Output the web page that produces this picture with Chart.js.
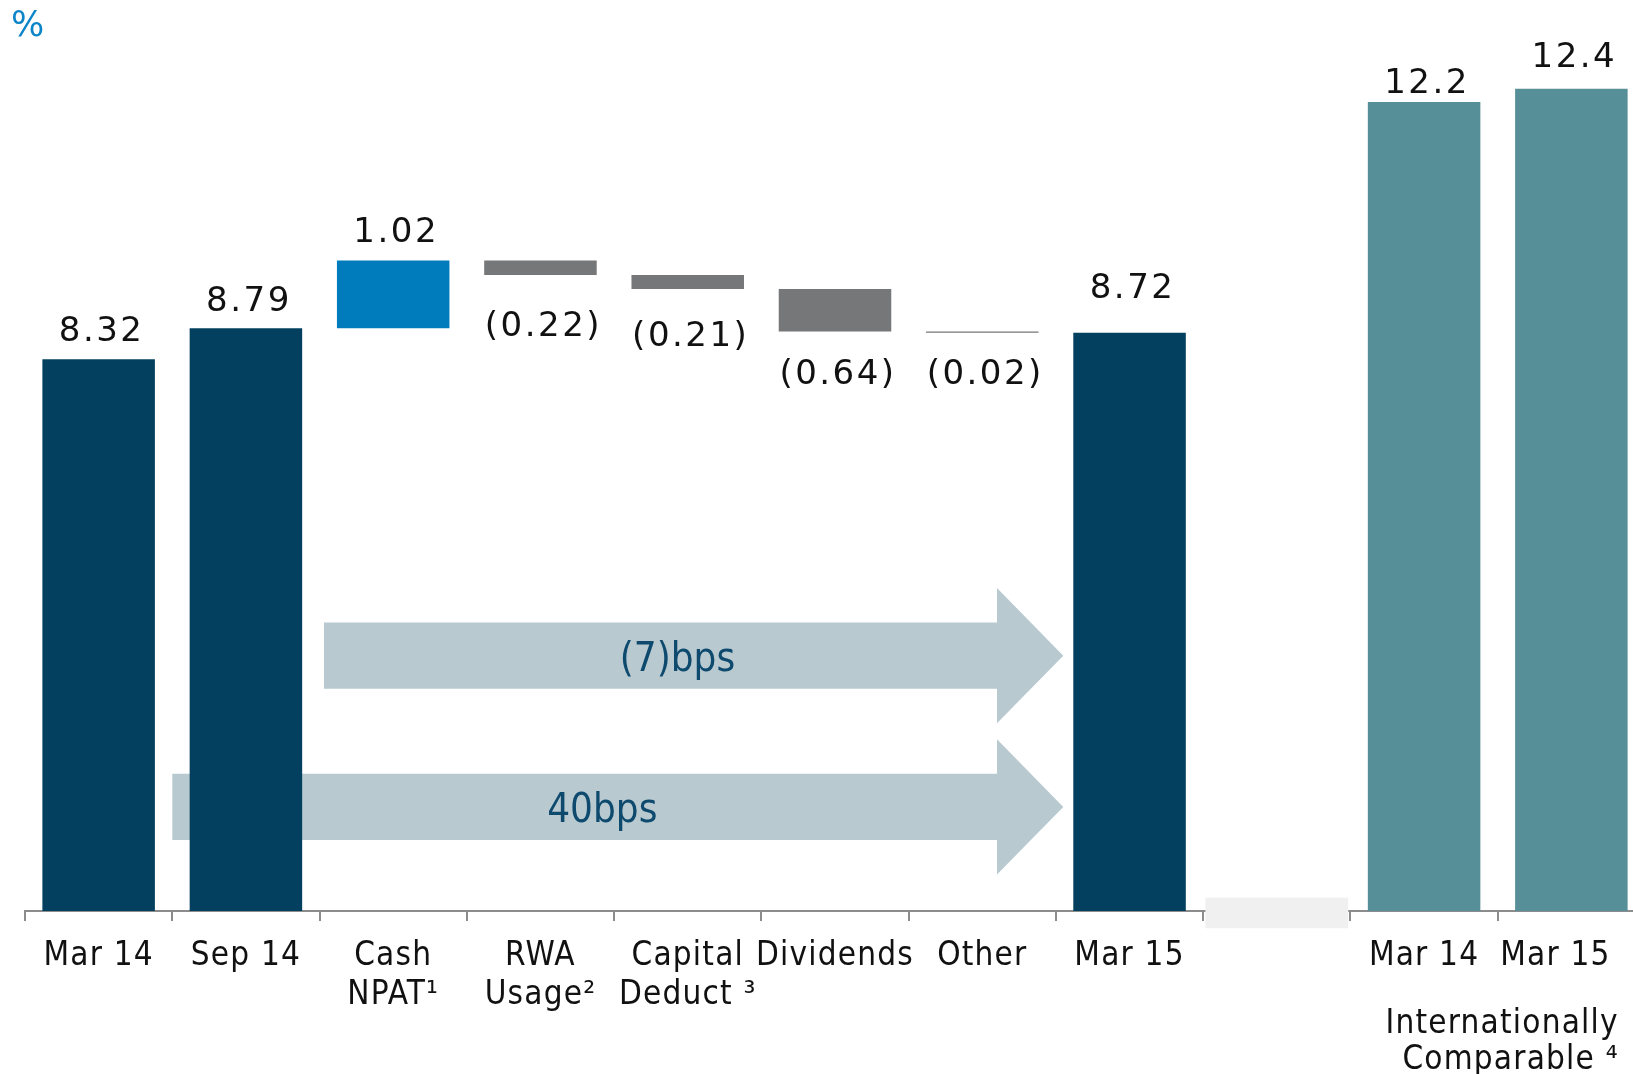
<!DOCTYPE html>
<html>
<head>
<meta charset="utf-8">
<title>CET1 ratio movement</title>
<script src="https://cdn.jsdelivr.net/npm/chart.js@4/dist/chart.umd.min.js"></script>
<style>
  html, body { margin: 0; padding: 0; background: #fff; overflow: hidden; }
  #wrap { width: 1633px; height: 1074px; overflow: hidden; }
</style>
</head>
<body>
<div id="wrap"><canvas id="chart" width="1660" height="1074"></canvas></div>
<script>
// data
const categories = ["Mar 14", "Sep 14", ["Cash", "NPAT\u00B9"], ["RWA", "Usage\u00B2"], ["Capital", "Deduct \u00B3"],
  "Dividends", "Other", "Mar 15", "", "Mar 14", "Mar 15   "];
const levels = [8.32, 8.79, null, null, null, null, null, 8.72, null, 12.2, 12.4];
const movements = [null, null, 1.02, -0.22, -0.21, -0.64, -0.02, null, null, null, null];
const valueLabels = ["8.32", "8.79", "1.02", "(0.22)", "(0.21)", "(0.64)", "(0.02)", "8.72", "", "12.2", "12.4"];
const arrowLabels = ["(7)bps", "40bps"];
const groupLabel = ["Internationally", "Comparable \u2074"];
const intlFrom = 9;      // bars from here on are the internationally comparable ones
const breakAt = 8;       // empty slot with the axis break

// waterfall: totals start at zero, movements float on the running level
let running = 0;
const barData = categories.map((c, i) => {
  if (levels[i] !== null) { running = levels[i]; return [0, levels[i]]; }
  if (movements[i] !== null) {
    const start = running;
    running = Math.round((running + movements[i]) * 100) / 100;
    return [start, running];
  }
  return null;
});
const breakData = categories.map((c, i) => i === breakAt ? [-0.26, 0.2] : null);

const NAVY = "#03405f", TEAL = "#578f98", BLUE = "#007cbd", GREY = "#767779";
const barColors = categories.map((c, i) => {
  if (levels[i] !== null) return i >= intlFrom ? TEAL : NAVY;
  if (movements[i] !== null) return movements[i] > 0 ? BLUE : GREY;
  return "rgba(0,0,0,0)";
});

const condensed = "'DejaVu Sans Condensed', 'DejaVu Sans', sans-serif";

const annotate = {
  id: "annotate",
  beforeDraw(chart) {
    // slight tracking for the axis labels, as in the slide
    chart.ctx.letterSpacing = "1.2px";
  },
  beforeDatasetsDraw(chart, args, opts) {
    const { ctx, scales: { x, y } } = chart;
    opts.arrows.forEach((a, i) => {
      const x0 = x.getPixelForValue(a.from);
      const x1 = x.getPixelForValue(a.to);
      const xh = x.getPixelForValue(a.to - opts.headLength);
      const yc = y.getPixelForValue(a.level);
      const bh = y.getPixelForValue(a.level - opts.bodyHalf) - yc;
      const hh = y.getPixelForValue(a.level - opts.headHalf) - yc;
      ctx.save();
      ctx.fillStyle = "#b8c9d0";
      ctx.beginPath();
      ctx.moveTo(x0, yc - bh);
      ctx.lineTo(xh, yc - bh);
      ctx.lineTo(xh, yc - hh);
      ctx.lineTo(x1, yc);
      ctx.lineTo(xh, yc + hh);
      ctx.lineTo(xh, yc + bh);
      ctx.lineTo(x0, yc + bh);
      ctx.closePath();
      ctx.fill();
      ctx.fillStyle = "#0e4a6e";
      ctx.letterSpacing = "0px";
      ctx.font = "40px " + condensed;
      ctx.textAlign = "center";
      ctx.textBaseline = "middle";
      ctx.fillText(arrowLabels[i], x.getPixelForValue(a.textAt), yc + 5);
      ctx.restore();
    });
  },
  afterDatasetsDraw(chart, args, opts) {
    const { ctx } = chart;
    const meta = chart.getDatasetMeta(0);
    ctx.save();
    ctx.fillStyle = "#111";
    ctx.font = "34px 'DejaVu Sans', sans-serif";
    ctx.letterSpacing = "2.5px";
    ctx.textAlign = "center";
    ctx.textBaseline = "alphabetic";
    meta.data.forEach((bar, i) => {
      const text = valueLabels[i];
      if (!text) return;
      const neg = movements[i] !== null && movements[i] < 0;
      const top = Math.min(bar.y, bar.base);
      const bottom = Math.max(bar.y, bar.base);
      const gap = opts.labelGaps[i];
      ctx.fillText(text, bar.x + 3, neg ? bottom + gap + 25 : top - gap);
    });
    ctx.restore();
  },
  afterDraw(chart) {
    const { ctx, scales: { x } } = chart;
    ctx.save();
    ctx.letterSpacing = "0px";
    ctx.fillStyle = "#0b85c7";
    ctx.font = "35px 'DejaVu Sans', sans-serif";
    ctx.textBaseline = "alphabetic";
    ctx.fillText("%", 11, 36);
    ctx.fillStyle = "#111";
    ctx.letterSpacing = "1.2px";
    ctx.font = "33px " + condensed;
    ctx.textAlign = "right";
    const right = x.getPixelForValue(9.5) + 121;
    ctx.fillText(groupLabel[0], right, 1033);
    ctx.fillText(groupLabel[1], right, 1069);
    ctx.restore();
  }
};

new Chart(document.getElementById("chart").getContext("2d"), {
  type: "bar",
  data: {
    labels: categories,
    datasets: [{
      label: "CET1",
      data: barData,
      backgroundColor: barColors,
      barPercentage: 0.764,
      categoryPercentage: 1,
      grouped: false
    }, {
      label: "break",
      data: breakData,
      backgroundColor: "#f0f0f0",
      barPercentage: 0.97,
      categoryPercentage: 1,
      grouped: false,
      clip: false
    }]
  },
  options: {
    responsive: false,
    animation: false,
    layout: { padding: { top: 49, left: 25, right: 15, bottom: 0 } },
    plugins: {
      legend: { display: false },
      tooltip: { enabled: false },
      annotate: {
        arrows: [
          { from: 1.53, to: 6.55, level: 3.85, textAt: 3.93 },
          { from: 0.5, to: 6.55, level: 1.57, textAt: 3.42 }
        ],
        headLength: 0.45,
        bodyHalf: 0.5,
        headHalf: 1.02,
        labelGaps: [18, 17, 19, 36, 32, 28, 26, 35, 0, 9, 22]
      }
    },
    scales: {
      x: {
        border: { display: true, color: "#8c8c8c", width: 2 },
        grid: { display: true, drawOnChartArea: false, drawTicks: true, tickLength: 10, color: "#8c8c8c", lineWidth: 2, offset: true },
        ticks: {
          color: "#111",
          font: { family: condensed, size: 33, lineHeight: 1.18 },
          padding: 16,
          autoSkip: false,
          maxRotation: 0
        },
        afterFit(scale) { scale.height = 163; }
      },
      y: { display: false, min: 0, max: 13 }
    }
  },
  plugins: [annotate]
});
</script>
</body>
</html>
